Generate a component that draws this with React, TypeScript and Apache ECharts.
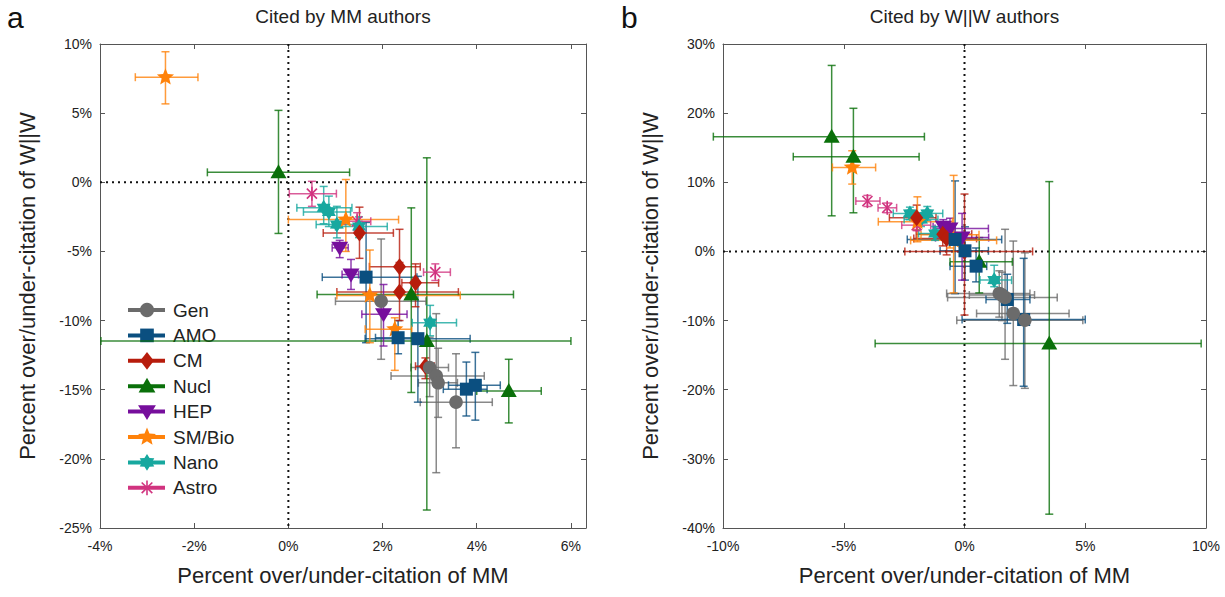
import React, { useEffect, useRef } from 'react';
import * as echarts from 'echarts';

// ---------------- data ----------------
const categories = ['Gen', 'AMO', 'CM', 'Nucl', 'HEP', 'SM/Bio', 'Nano', 'Astro'];
const colors = ['#6b6b6b', '#0b4f80', '#b71c0c', '#0a700a', '#760e9c', '#ff820a', '#17a89f', '#d1337f'];
const markerKinds = ['circle', 'square', 'diamond', 'triangle', 'tridown', 'star5', 'star6', 'asterisk'];

// each point: [x, y, xLow, xHigh, yLow, yHigh]  (percent)
// Panel a: cited by MM authors
const genA = [[1.97, -8.6, 1.0, 2.92, -12.8, -4.1], [3.0, -13.4, 2.6, 3.4, -15.5, -11.2], [3.14, -14.0, 2.18, 4.16, -21.0, -9.5], [3.18, -14.5, 2.76, 3.59, -17.0, -12.0], [3.56, -15.9, 2.8, 4.33, -19.2, -12.4]];
const amoA = [[1.65, -6.86, 0.72, 2.73, -11.6, -2.9], [2.33, -11.24, 1.85, 2.8, -12.4, -10.0], [2.75, -11.31, 1.63, 3.86, -15.9, -6.8], [3.78, -14.96, 3.29, 4.22, -16.9, -13.0], [3.97, -14.68, 3.4, 4.5, -17.2, -12.3]];
const cmA = [[1.51, -3.66, 0.74, 2.23, -5.5, -1.8], [2.36, -6.11, 1.72, 2.8, -7.8, -3.4], [2.70, -7.27, 2.41, 3.19, -9.0, -5.9], [2.36, -7.94, 1.03, 3.61, -10.0, -5.8], [2.91, -13.3, 2.7, 3.1, -14.2, -12.7]];
const nuclA = [[-0.21, 0.72, -1.72, 1.30, -3.7, 5.2], [2.61, -8.11, 0.61, 4.78, -15.2, -1.85], [2.94, -11.48, -3.98, 6.0, -23.7, 1.77], [4.68, -15.09, 4.0, 5.37, -17.4, -12.8]];
const hepA = [[1.09, -4.74, 0.93, 1.27, -5.45, -4.2], [1.33, -6.67, 1.14, 1.49, -7.75, -5.58], [2.02, -9.55, 1.56, 2.52, -11.84, -7.39]];
const smbioA = [[-2.61, 7.6, -3.25, -1.92, 5.67, 9.44], [1.22, -2.70, 0.0, 2.34, -5.0, 0.2], [1.73, -8.18, 1.03, 3.65, -11.6, -4.9], [2.26, -10.63, 1.63, 2.62, -13.6, -9.8]];
const nanoA = [[0.75, -1.85, 0.18, 1.35, -3.0, -0.3], [0.86, -2.14, 0.32, 1.32, -3.2, -1.0], [1.03, -3.06, 0.59, 1.56, -4.02, -1.74], [1.5, -3.2, 1.0, 2.1, -4.0, -2.5], [3.01, -10.15, 2.63, 3.57, -11.1, -8.9]];
const astroA = [[0.50, -0.82, 0.02, 1.02, -1.74, 0.07], [1.46, -2.82, 1.2, 1.75, -3.5, -2.2], [3.12, -6.50, 2.87, 3.44, -7.1, -5.9]];

// Panel b: cited by W||W authors
const genB = [[1.44, -6.08, -0.74, 2.71, -9.5, -2.8], [1.68, -6.66, -0.7, 3.84, -15.6, 3.2], [1.55, -6.3, 0.2, 2.9, -10.0, -3.0], [2.02, -8.97, 0.5, 4.33, -19.4, 1.5], [2.50, -9.94, -0.32, 4.9, -19.8, -0.2]];
const amoB = [[-0.39, 1.73, -2.37, 1.54, -6.1, 10.2], [0.02, 0.09, -1.01, 0.99, -4.15, 3.56], [0.48, -2.13, -0.6, 0.92, -4.4, 0.5], [1.77, -6.95, 0.89, 2.71, -10.4, -3.3], [2.45, -9.85, -0.1, 5.0, -19.5, -1.0]];
const cmB = [[-1.98, 4.87, -3.11, -1.18, 3.1, 6.7], [-0.9, 2.5, -2.0, 0.3, 0.8, 4.2], [-0.74, 1.88, -2.1, 0.5, -0.5, 4.0], [0.0, 0.0, -2.47, 2.82, -9.2, 8.3]];
const nuclB = [[-5.50, 16.6, -10.4, -1.66, 5.15, 26.9], [-4.60, 13.7, -7.09, -1.88, 5.59, 20.7], [0.61, -1.50, -0.6, 1.98, -6.0, 2.0], [3.51, -13.3, -3.7, 9.8, -38.0, 10.1]];
const hepB = [[-0.88, 3.56, -1.3, -0.4, 2.6, 4.6], [-0.6, 3.3, -1.22, 0.99, 2.0, 4.8], [-0.1, 2.0, -1.2, 1.0, -4.15, 5.5]];
const smbioB = [[-4.65, 12.15, -5.47, -3.68, 9.74, 14.56], [-1.95, 4.3, -3.57, -0.5, 1.4, 7.9], [-0.45, 1.6, -2.23, 1.33, -6.0, 11.0], [-0.6, 2.4, -1.8, 0.6, 0.5, 4.0]];
const nanoB = [[-2.26, 5.5, -2.95, -1.43, 4.6, 6.4], [-1.54, 5.5, -2.2, -0.9, 4.5, 6.5], [-1.8, 4.6, -2.5, -1.1, 3.6, 5.6], [-1.22, 2.6, -1.9, -0.5, 1.6, 3.6], [1.23, -4.15, 0.64, 1.95, -5.1, -2.0]];
const astroB = [[-4.02, 7.28, -4.5, -3.5, 6.5, 8.1], [-3.20, 6.31, -3.58, -2.81, 5.6, 7.0], [-1.98, 3.8, -2.6, -1.4, 3.0, 4.6]];

const panelAData = [genA, amoA, cmA, nuclA, hepA, smbioA, nanoA, astroA];
const panelBData = [genB, amoB, cmB, nuclB, hepB, smbioB, nanoB, astroB];

const titles = ['Cited by MM authors', 'Cited by W||W authors'];
const panelLetters = ['a', 'b'];
const xName = 'Percent over/under-citation of MM';
const yName = 'Percent over/under-citation of W||W';

// ---------------- drawing helpers ----------------
const FONT = '"Liberation Sans", Arial, sans-serif';

function starPts(cx: number, cy: number, n: number, ro: number, ri: number) {
  const pts: number[][] = [];
  for (let i = 0; i < 2 * n; i++) {
    const r = i % 2 === 0 ? ro : ri;
    const a = -Math.PI / 2 + (i * Math.PI) / n;
    pts.push([cx + r * Math.cos(a), cy + r * Math.sin(a)]);
  }
  return pts;
}

function markerEls(kind: string, cx: number, cy: number, color: string, k = 1): any[] {
  const fill = { fill: color };
  switch (kind) {
    case 'circle':
      return [{ type: 'circle', shape: { cx, cy, r: 6.8 * k }, style: fill }];
    case 'square':
      return [{ type: 'rect', shape: { x: cx - 6.5 * k, y: cy - 6.5 * k, width: 13 * k, height: 13 * k }, style: fill }];
    case 'diamond':
      return [{ type: 'polygon', shape: { points: [[cx, cy - 8.5 * k], [cx + 6.5 * k, cy], [cx, cy + 8.5 * k], [cx - 6.5 * k, cy]] }, style: fill }];
    case 'triangle':
      return [{ type: 'polygon', shape: { points: [[cx, cy - 8 * k], [cx + 8 * k, cy + 6 * k], [cx - 8 * k, cy + 6 * k]] }, style: fill }];
    case 'tridown':
      return [{ type: 'polygon', shape: { points: [[cx, cy + 8 * k], [cx + 8.5 * k, cy - 6 * k], [cx - 8.5 * k, cy - 6 * k]] }, style: fill }];
    case 'star5':
      return [{ type: 'polygon', shape: { points: starPts(cx, cy, 5, 9 * k, 4 * k) }, style: fill }];
    case 'star6':
      return [{ type: 'polygon', shape: { points: starPts(cx, cy, 6, 8 * k, 4.8 * k) }, style: fill }];
    case 'asterisk': {
      const r = 7 * k;
      const st = { stroke: color, lineWidth: 1.6 };
      const d = r * 0.72;
      return [
        { type: 'line', shape: { x1: cx, y1: cy - r, x2: cx, y2: cy + r }, style: st },
        { type: 'line', shape: { x1: cx - d, y1: cy - d, x2: cx + d, y2: cy + d }, style: st },
        { type: 'line', shape: { x1: cx - d, y1: cy + d, x2: cx + d, y2: cy - d }, style: st },
      ];
    }
  }
  return [];
}

function errorBarSeries(data: number[][], color: string, axisIdx: number) {
  return {
    type: 'custom',
    xAxisIndex: axisIdx,
    yAxisIndex: axisIdx,
    data,
    z: 2,
    silent: true,
    clip: false,
    encode: { x: 0, y: 1 },
    renderItem: (_params: any, api: any) => {
      const x = api.value(0), y = api.value(1);
      const xl = api.value(2), xh = api.value(3), yl = api.value(4), yh = api.value(5);
      const pL = api.coord([xl, y]);
      const pR = api.coord([xh, y]);
      const pT = api.coord([x, yh]);
      const pB = api.coord([x, yl]);
      const c = 4;
      const st = { stroke: color, lineWidth: 1.5, opacity: 0.8 };
      return {
        type: 'group',
        children: [
          { type: 'line', shape: { x1: pL[0], y1: pL[1], x2: pR[0], y2: pR[1] }, style: st },
          { type: 'line', shape: { x1: pL[0], y1: pL[1] - c, x2: pL[0], y2: pL[1] + c }, style: st },
          { type: 'line', shape: { x1: pR[0], y1: pR[1] - c, x2: pR[0], y2: pR[1] + c }, style: st },
          { type: 'line', shape: { x1: pT[0], y1: pT[1], x2: pB[0], y2: pB[1] }, style: st },
          { type: 'line', shape: { x1: pT[0] - c, y1: pT[1], x2: pT[0] + c, y2: pT[1] }, style: st },
          { type: 'line', shape: { x1: pB[0] - c, y1: pB[1], x2: pB[0] + c, y2: pB[1] }, style: st },
        ],
      };
    },
  };
}

function markerSeries(name: string, data: number[][], kind: string, color: string, axisIdx: number) {
  return {
    type: 'custom',
    name,
    xAxisIndex: axisIdx,
    yAxisIndex: axisIdx,
    data,
    z: 3,
    clip: false,
    encode: { x: 0, y: 1 },
    renderItem: (_params: any, api: any) => {
      const p = api.coord([api.value(0), api.value(1)]);
      return { type: 'group', children: markerEls(kind, p[0], p[1], color) };
    },
  };
}

function zeroLineSeries(axisIdx: number) {
  return {
    type: 'custom',
    xAxisIndex: axisIdx,
    yAxisIndex: axisIdx,
    data: [[0, 0]],
    z: 1,
    silent: true,
    renderItem: (params: any, api: any) => {
      const cs = params.coordSys;
      const p = api.coord([0, 0]);
      const st = { stroke: '#111', lineWidth: 2, lineDash: [2, 4] };
      return {
        type: 'group',
        children: [
          { type: 'line', shape: { x1: cs.x, y1: p[1], x2: cs.x + cs.width, y2: p[1] }, style: st },
          { type: 'line', shape: { x1: p[0], y1: cs.y, x2: p[0], y2: cs.y + cs.height }, style: st },
        ],
      };
    },
  };
}

const axisLineStyle = { onZero: false, lineStyle: { color: '#555', width: 1 } };
const tickStyle = { show: true, inside: true, length: 5, lineStyle: { color: '#555' } };
const labelStyle = { color: '#222', fontSize: 14, fontFamily: FONT };
const nameStyle = { color: '#222', fontSize: 22, fontFamily: FONT };

function pctFmt(step: number) {
  return (v: number) => (Math.abs(v / step - Math.round(v / step)) < 1e-6 ? `${Math.round(v)}%` : '');
}

function xAxes(gridIndex: number, min: number, max: number, interval: number) {
  return [
    {
      type: 'value', gridIndex, min, max, interval, position: 'bottom',
      axisLine: axisLineStyle, axisTick: tickStyle, splitLine: { show: false },
      axisLabel: { ...labelStyle, margin: 11, formatter: pctFmt(interval) },
      name: xName, nameLocation: 'middle', nameGap: 36, nameTextStyle: nameStyle,
    },
    {
      type: 'value', gridIndex, min, max, interval, position: 'top',
      axisLine: axisLineStyle, axisTick: tickStyle, splitLine: { show: false }, axisLabel: { show: false },
    },
  ];
}

function yAxes(gridIndex: number, min: number, max: number, interval: number) {
  return [
    {
      type: 'value', gridIndex, min, max, interval, position: 'left',
      axisLine: axisLineStyle, axisTick: tickStyle, splitLine: { show: false },
      axisLabel: { ...labelStyle, margin: 8, formatter: pctFmt(interval) },
      name: yName, nameLocation: 'middle', nameGap: 62, nameTextStyle: nameStyle,
    },
    {
      type: 'value', gridIndex, min, max, interval, position: 'right',
      axisLine: axisLineStyle, axisTick: tickStyle, splitLine: { show: false }, axisLabel: { show: false },
    },
  ];
}

function legendGraphic() {
  const els: any[] = [];
  categories.forEach((cat, i) => {
    const cy = 310 + i * 25.4;
    els.push({ type: 'line', shape: { x1: 128, y1: cy, x2: 165, y2: cy }, style: { stroke: colors[i], lineWidth: 4 } });
    markerEls(markerKinds[i], 147, cy, colors[i], 1.05).forEach((e) => els.push(e));
    els.push({ type: 'text', x: 173, y: cy, style: { text: cat, fill: '#222', fontSize: 19, fontFamily: FONT, align: 'left', verticalAlign: 'middle' } });
  });
  return els;
}

export default function App() {
  const ref = useRef<HTMLDivElement>(null);
  useEffect(() => {
    if (!ref.current) return;
    const chart = echarts.init(ref.current, null, { renderer: 'svg' });
    const series: any[] = [zeroLineSeries(0), zeroLineSeries(2)];
    [panelAData, panelBData].forEach((panel, pi) => {
      const ai = pi * 2;
      panel.forEach((d, ci) => series.push(errorBarSeries(d, colors[ci], ai)));
    });
    const order = [7, 6, 5, 4, 3, 2, 1, 0];
    [panelAData, panelBData].forEach((panel, pi) => {
      const ai = pi * 2;
      order.forEach((ci) => series.push(markerSeries(categories[ci], panel[ci], markerKinds[ci], colors[ci], ai)));
    });

    const option: any = {
      animation: false,
      backgroundColor: '#fff',
      grid: [
        { left: 100, top: 44, width: 486, height: 484 },
        { left: 723, top: 44, width: 483, height: 484 },
      ],
      xAxis: [...xAxes(0, -4, 6.32, 2), ...xAxes(1, -10, 10, 5)],
      yAxis: [...yAxes(0, -25, 10, 5), ...yAxes(1, -40, 30, 10)],
      series,
      graphic: [
        { type: 'text', x: 343, y: 16, style: { text: titles[0], fill: '#222', fontSize: 19, fontFamily: FONT, align: 'center', verticalAlign: 'middle' } },
        { type: 'text', x: 964.5, y: 16, style: { text: titles[1], fill: '#222', fontSize: 19, fontFamily: FONT, align: 'center', verticalAlign: 'middle' } },
        { type: 'text', x: 7, y: 17, style: { text: panelLetters[0], fill: '#111', fontSize: 30, fontFamily: FONT, align: 'left', verticalAlign: 'middle' } },
        { type: 'text', x: 621, y: 17, style: { text: panelLetters[1], fill: '#111', fontSize: 30, fontFamily: FONT, align: 'left', verticalAlign: 'middle' } },
        ...legendGraphic(),
      ],
    };
    chart.setOption(option);
    return () => chart.dispose();
  }, []);
  return <div ref={ref} style={{ position: 'absolute', left: 0, top: 0, width: 1225, height: 597 }} />;
}
